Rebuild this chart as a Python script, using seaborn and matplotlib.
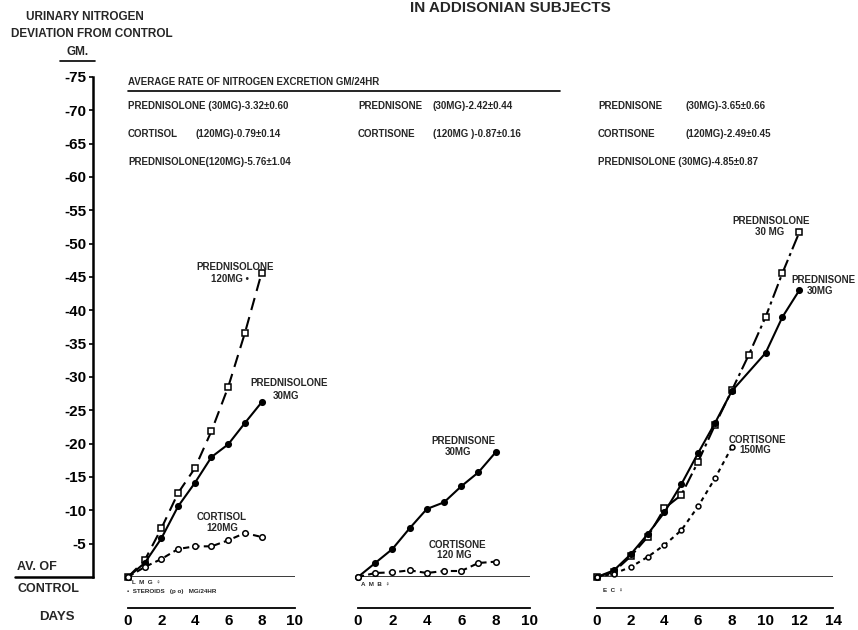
import seaborn as sns
import matplotlib.pyplot as plt
from matplotlib.lines import Line2D

# ---- data (gm N, negative = excretion) ----
days_p1 = [0, 1, 2, 3, 4, 5, 6, 7, 8]
prednisolone_120 = [0, -2.5, -7.3, -12.6, -16.3, -21.9, -28.5, -36.6, -45.6]
prednisolone_30_a = [0, -2.1, -5.8, -10.6, -14.1, -18.0, -19.9, -23.1, -26.2]
cortisol_120 = [0, -1.5, -2.7, -4.2, -4.6, -4.6, -5.5, -6.6, -6.0]

days_p2 = [0, 1, 2, 3, 4, 5, 6, 7, 8]
prednisone_30_b = [0, -2.1, -4.2, -7.3, -10.2, -11.2, -13.6, -15.7, -18.7]
cortisone_120 = [0, -0.6, -0.7, -1.0, -0.6, -0.9, -0.9, -2.1, -2.3]

days_p3_pred = [0, 1, 2, 3, 4, 5, 6, 7, 8, 10, 11, 12]
prednisone_30_c = [0, -1.0, -3.4, -6.4, -9.7, -13.9, -18.6, -23.1, -27.9, -33.6, -39.0, -43.0]
days_p3_lone = [0, 1, 2, 3, 4, 5, 6, 7, 8, 9, 10, 11, 12]
prednisolone_30_c = [0, -0.8, -3.1, -6.0, -10.3, -12.3, -17.3, -22.8, -28.0, -33.3, -39.0, -45.6, -51.7]
days_p3_cort = [0, 1, 2, 3, 4, 5, 6, 7, 8]
cortisone_150 = [0, -0.5, -1.5, -3.0, -4.8, -7.0, -10.6, -14.8, -19.5]

y_ticks = list(range(-75, 0, 5))

avg_names = [["PREDNISOLONE (30MG)-3.32±0.60", "CORTISOL", "PREDNISOLONE(120MG)-5.76±1.04"],
             ["PREDNISONE", "CORTISONE", ""],
             ["PREDNISONE", "CORTISONE", "PREDNISOLONE (30MG)-4.85±0.87"]]
avg_values = [["", "(120MG)-0.79±0.14", ""],
              ["(30MG)-2.42±0.44", "(120MG )-0.87±0.16", ""],
              ["(30MG)-3.65±0.66", "(120MG)-2.49±0.45", ""]]

sns.set_style("white")
plt.rcParams["font.family"] = ["Liberation Sans", "DejaVu Sans"]
plt.rcParams["font.weight"] = "bold"
plt.rcParams["axes.unicode_minus"] = False

W, H = 858, 630
fig = plt.figure(figsize=(W / 100, H / 100), dpi=100)

Y0 = 577          # pixel row of the zero line
TOP = -76
PX_PER_GM = 500 / 75


def panel(left, right):
    top_px = Y0 + TOP * PX_PER_GM
    return fig.add_axes([left / W, (H - Y0) / H, (right - left) / W, (Y0 - top_px) / H])


ax1 = panel(128, 295)
ax2 = panel(358, 530)
ax3 = panel(597, 833)


def series(ax, x, y, marker, ls, face, ms):
    sns.lineplot(x=x, y=y, ax=ax, color="black", marker=marker, markersize=ms,
                 markerfacecolor=face, markeredgecolor="black", markeredgewidth=1.1,
                 linestyle=ls, linewidth=1.5, clip_on=False, zorder=3)


series(ax1, days_p1, prednisolone_120, "s", (0, (6, 3.5)), "white", 5)
series(ax1, days_p1, prednisolone_30_a, "o", "-", "black", 4)
series(ax1, days_p1, cortisol_120, "o", (0, (3, 2)), "white", 4)

series(ax2, days_p2, prednisone_30_b, "o", "-", "black", 4)
series(ax2, days_p2, cortisone_120, "o", (0, (3, 2)), "white", 4)

series(ax3, days_p3_lone, prednisolone_30_c, "s", (0, (7, 2, 1.5, 2)), "white", 5)
series(ax3, days_p3_pred, prednisone_30_c, "o", "-", "black", 4)
series(ax3, days_p3_cort, cortisone_150, "o", (0, (2, 2)), "white", 3.5)

for ax, xmax in [(ax1, 10), (ax2, 10), (ax3, 14)]:
    ax.set_xlim(0, xmax)
    ax.set_ylim(0, TOP)
    ax.axhline(0, color="black", lw=1.8, zorder=2)
    for s in ["top", "right", "left"]:
        ax.spines[s].set_visible(False)
    ax.spines["bottom"].set_position(("outward", 22.3))
    ax.spines["bottom"].set_linewidth(1.3)
    ax.spines["bottom"].set_color("black")
    ax.set_xticks(range(0, xmax + 1, 2))
    ax.tick_params(axis="x", direction="in", length=3.5, width=1.2, labelsize=11,
                   pad=4, colors="black")
    ax.set_yticks([])
    ax.set_xlabel("")
    ax.set_ylabel("")
    ax.patch.set_alpha(0)

# y axis drawn on the first panel, pushed out to the left
ax1.spines["left"].set_visible(True)
ax1.spines["left"].set_position(("outward", 25.2))
ax1.spines["left"].set_bounds(-75, 0)
ax1.spines["left"].set_linewidth(1.8)
ax1.spines["left"].set_color("black")
ax1.set_yticks(y_ticks)
ax1.tick_params(axis="y", direction="out", length=3, width=1.2, labelsize=11, pad=2,
                colors="black", left=True)


def ftext(px, py, s, size=7, ha="left", va="center"):
    fig.text(px / W, 1 - py / H, s, fontsize=size, ha=ha, va=va, fontweight="bold")


def fline(x0, x1, py, lw=1.2):
    fig.add_artist(Line2D([x0 / W, x1 / W], [1 - py / H, 1 - py / H],
                          transform=fig.transFigure, color="black", lw=lw))


ftext(510, 8, "IN ADDISONIAN SUBJECTS", size=11, ha="center")
ftext(85, 17, "URINARY NITROGEN", size=8.5, ha="center")
ftext(92, 34, "DEVIATION FROM CONTROL", size=8.5, ha="center")
ftext(78, 52, "GM.", size=8.5, ha="center")
fline(60, 95, 61)
ftext(17, 567, "AV. OF", size=9)
fline(15, 93, 577, lw=1.8)
ftext(17, 589, "CONTROL", size=9)
ftext(57, 617, "DAYS", size=9.5, ha="center")

# average excretion table
ftext(128, 82, "AVERAGE RATE OF NITROGEN EXCRETION GM/24HR", size=7)
fline(128, 560, 91)
col_x = [(128, 196), (358, 433), (598, 685)]
row_y = [106, 134, 162]
for c, (xn, xv) in enumerate(col_x):
    for r, yy in enumerate(row_y):
        if avg_names[c][r]:
            ftext(xn, yy, avg_names[c][r], size=7)
        if avg_values[c][r]:
            ftext(xv, yy, avg_values[c][r], size=7)

# series labels
ftext(235, 267, "PREDNISOLONE", ha="center")
ftext(230, 279, "120MG •", ha="center")
ftext(289, 383, "PREDNISOLONE", ha="center")
ftext(286, 396, "30MG", ha="center")
ftext(222, 517, "CORTISOL", ha="center")
ftext(222, 528, "120MG", ha="center")
ftext(463, 441, "PREDNISONE", ha="center")
ftext(458, 452, "30MG", ha="center")
ftext(457, 545, "CORTISONE", ha="center")
ftext(454, 555, "120 MG", ha="center")
ftext(771, 221, "PREDNISOLONE", ha="center")
ftext(770, 232, "30 MG", ha="center")
ftext(823, 280, "PREDNISONE", ha="center")
ftext(820, 291, "30MG", ha="center")
ftext(757, 440, "CORTISONE", ha="center")
ftext(755, 450, "150MG", ha="center")

# subject codes under the baselines
ftext(132, 583, "L  M  G  ♀", size=4.5)
ftext(127, 592, "•  STEROIDS   (p o)   MG/24HR", size=4.5)
ftext(361, 585, "A  M  B  ♀", size=4.5)
ftext(603, 591, "E  C  ♀", size=4.5)

fig.savefig("out.png", dpi=100, facecolor="white")
